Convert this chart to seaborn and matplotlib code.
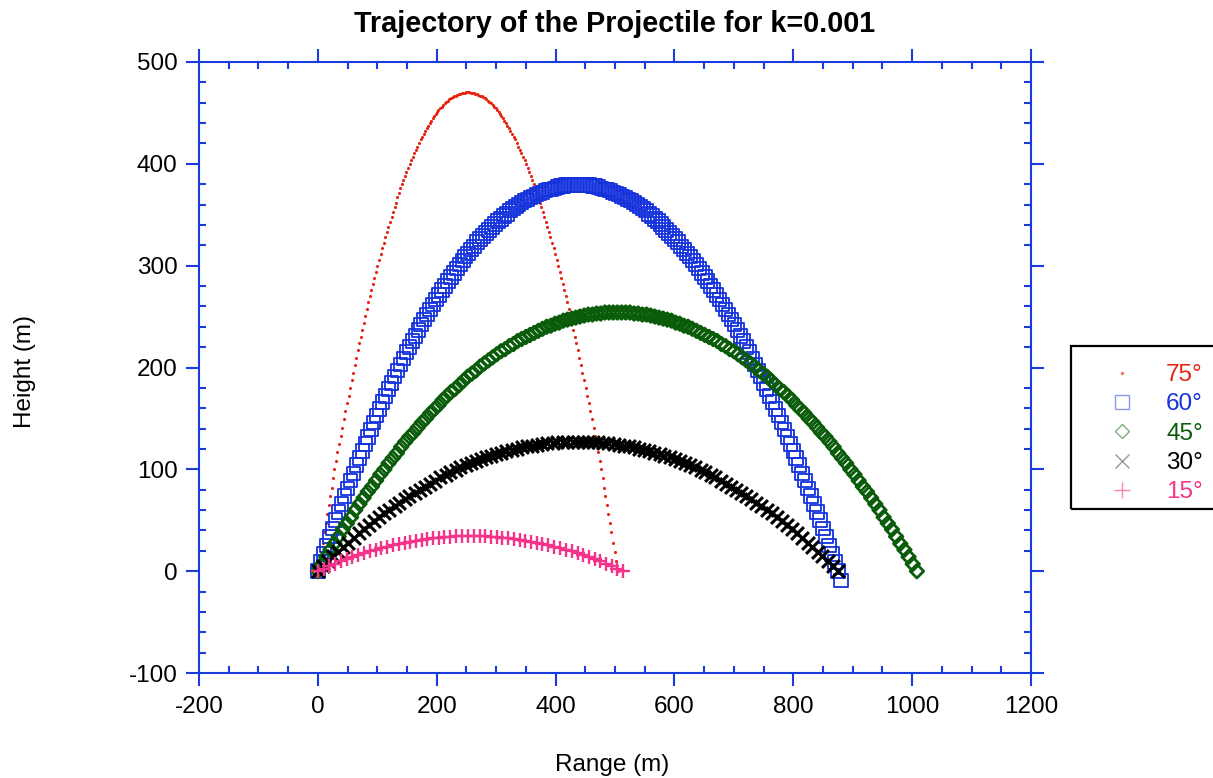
import matplotlib
matplotlib.use("Agg")
import matplotlib.pyplot as plt
from matplotlib.lines import Line2D
from matplotlib.patches import Rectangle
from matplotlib.ticker import MultipleLocator
import seaborn as sns

# --- trajectory samples (range x in m, height y in m), one point per time step ---
x_75 = [0, 3, 5, 8, 10, 13, 15, 18, 21, 23, 26, 28, 31, 33, 36, 39, 41, 44, 46, 49,
        52, 54, 57, 59, 62, 64, 67, 70, 72, 75, 77, 80, 82, 85, 88, 90, 93, 95, 98, 100,
        103, 106, 108, 111, 113, 116, 118, 121, 124, 126, 129, 131, 134, 136, 139, 142, 144, 147, 149, 152,
        155, 157, 160, 162, 165, 167, 170, 173, 175, 178, 180, 183, 185, 188, 191, 193, 196, 198, 201, 203,
        206, 209, 211, 214, 216, 219, 221, 224, 227, 229, 232, 234, 237, 239, 242, 245, 247, 250, 252, 255,
        258, 260, 263, 265, 268, 270, 273, 276, 278, 281, 283, 286, 288, 291, 294, 296, 299, 301, 304, 306,
        309, 312, 314, 317, 319, 322, 324, 327, 330, 332, 335, 337, 340, 342, 345, 348, 350, 353, 355, 358,
        361, 363, 366, 368, 371, 373, 376, 379, 381, 384, 386, 389, 391, 394, 397, 399, 402, 404, 407, 409,
        412, 415, 417, 420, 422, 425, 427, 430, 433, 435, 438, 440, 443, 445, 448, 451, 453, 456, 458, 461,
        464, 466, 469, 471, 474, 476, 479, 482, 484, 487, 489, 492, 494, 497, 500, 502, 505]
y_75 = [0, 10, 19, 28, 38, 47, 56, 65, 74, 82, 91, 100, 108, 117, 125, 133, 141, 149, 157, 165,
        172, 180, 188, 195, 202, 209, 217, 224, 230, 237, 244, 251, 257, 264, 270, 276, 282, 288, 294, 300,
        306, 311, 317, 322, 328, 333, 338, 343, 348, 353, 358, 362, 367, 371, 376, 380, 384, 388, 392, 396,
        400, 404, 407, 411, 414, 417, 420, 424, 426, 429, 432, 435, 437, 440, 442, 445, 447, 449, 451, 453,
        455, 456, 458, 460, 461, 462, 464, 465, 466, 467, 467, 468, 469, 469, 470, 470, 470, 471, 471, 471,
        470, 470, 470, 469, 469, 468, 467, 467, 466, 465, 464, 462, 461, 460, 458, 456, 455, 453, 451, 449,
        447, 445, 442, 440, 437, 435, 432, 429, 426, 424, 420, 417, 414, 411, 407, 404, 400, 396, 392, 388,
        384, 380, 376, 371, 367, 362, 358, 353, 348, 343, 338, 333, 328, 322, 317, 311, 306, 300, 294, 288,
        282, 276, 270, 264, 257, 251, 244, 237, 230, 224, 217, 209, 202, 195, 188, 180, 172, 165, 157, 149,
        141, 133, 125, 117, 108, 100, 91, 82, 74, 65, 56, 47, 38, 28, 19, 10, 0]

x_60 = [0, 5, 10, 15, 20, 25, 30, 35, 40, 45, 50, 55, 60, 65, 70, 75, 80, 84, 89, 94,
        99, 104, 109, 114, 119, 124, 129, 134, 139, 144, 149, 154, 159, 164, 169, 174, 179, 184, 189, 194,
        199, 204, 209, 214, 219, 224, 229, 234, 239, 244, 248, 253, 258, 263, 268, 273, 278, 283, 288, 293,
        298, 303, 308, 313, 318, 323, 328, 333, 338, 343, 348, 353, 358, 363, 368, 373, 378, 383, 388, 393,
        398, 403, 408, 413, 417, 422, 427, 432, 437, 442, 447, 452, 457, 462, 467, 472, 477, 482, 487, 492,
        497, 502, 507, 512, 517, 522, 527, 532, 537, 542, 547, 552, 557, 562, 567, 572, 577, 581, 586, 591,
        596, 601, 606, 611, 616, 621, 626, 631, 636, 641, 646, 651, 656, 661, 666, 671, 676, 681, 686, 691,
        696, 701, 706, 711, 716, 721, 726, 731, 736, 741, 745, 750, 755, 760, 765, 770, 775, 780, 785, 790,
        795, 800, 805, 810, 815, 820, 825, 830, 835, 840, 845, 850, 855, 860, 865, 870, 875, 880]
y_60 = [0, 9, 17, 25, 34, 42, 50, 58, 66, 74, 81, 89, 96, 104, 111, 118, 125, 132, 139, 146,
        153, 159, 166, 172, 179, 185, 191, 197, 203, 209, 215, 220, 226, 231, 237, 242, 247, 252, 257, 262,
        267, 271, 276, 280, 285, 289, 293, 297, 301, 305, 309, 312, 316, 319, 323, 326, 329, 332, 335, 338,
        341, 344, 346, 349, 351, 354, 356, 358, 360, 362, 364, 365, 367, 368, 370, 371, 372, 374, 375, 375,
        376, 377, 378, 378, 379, 379, 379, 379, 379, 379, 379, 379, 379, 378, 378, 377, 376, 375, 375, 374,
        372, 371, 370, 368, 367, 365, 364, 362, 360, 358, 356, 354, 351, 349, 346, 344, 341, 338, 335, 332,
        329, 326, 323, 319, 316, 312, 309, 305, 301, 297, 293, 289, 285, 280, 276, 271, 267, 262, 257, 252,
        247, 242, 237, 231, 226, 220, 215, 209, 203, 197, 191, 185, 179, 172, 166, 159, 153, 146, 139, 132,
        125, 118, 111, 104, 96, 89, 81, 74, 66, 58, 50, 42, 34, 25, 17, 9, 0, -9]

x_45 = [0, 7, 14, 21, 28, 35, 42, 49, 56, 63, 70, 77, 84, 91, 98, 105, 112, 119, 126, 133,
        140, 147, 154, 161, 168, 175, 182, 189, 196, 203, 210, 217, 224, 231, 238, 245, 252, 259, 266, 273,
        280, 287, 294, 301, 308, 315, 322, 329, 336, 343, 350, 357, 364, 371, 378, 385, 392, 399, 406, 413,
        420, 427, 434, 441, 448, 455, 462, 469, 476, 483, 490, 497, 504, 511, 518, 525, 532, 539, 546, 553,
        560, 567, 574, 581, 588, 595, 602, 609, 616, 623, 630, 637, 644, 651, 658, 665, 672, 679, 686, 693,
        700, 707, 714, 721, 728, 735, 742, 749, 756, 763, 770, 777, 784, 791, 798, 805, 812, 819, 826, 833,
        840, 847, 854, 861, 868, 875, 882, 889, 896, 903, 910, 917, 924, 931, 938, 945, 952, 959, 966, 973,
        980, 987, 994, 1001, 1008]
y_45 = [0, 7, 14, 21, 27, 34, 41, 47, 53, 60, 66, 72, 78, 83, 89, 95, 100, 106, 111, 116,
        122, 127, 132, 136, 141, 146, 150, 155, 159, 163, 168, 172, 176, 179, 183, 187, 191, 194, 197, 201,
        204, 207, 210, 213, 216, 218, 221, 223, 226, 228, 230, 232, 234, 236, 238, 240, 241, 243, 244, 246,
        247, 248, 249, 250, 251, 252, 252, 253, 253, 254, 254, 254, 254, 254, 254, 254, 253, 253, 252, 252,
        251, 250, 249, 248, 247, 246, 244, 243, 241, 240, 238, 236, 234, 232, 230, 228, 226, 223, 221, 218,
        216, 213, 210, 207, 204, 201, 197, 194, 191, 187, 183, 179, 176, 172, 168, 163, 159, 155, 150, 146,
        141, 136, 132, 127, 122, 116, 111, 106, 100, 95, 89, 83, 78, 72, 66, 60, 53, 47, 41, 34,
        27, 21, 14, 7, 0]

x_30 = [0, 9, 17, 26, 34, 43, 51, 60, 69, 77, 86, 94, 103, 112, 120, 129, 137, 146, 154, 163,
        172, 180, 189, 197, 206, 215, 223, 232, 240, 249, 257, 266, 275, 283, 292, 300, 309, 317, 326, 335,
        343, 352, 360, 369, 378, 386, 395, 403, 412, 420, 429, 438, 446, 455, 463, 472, 480, 489, 498, 506,
        515, 523, 532, 541, 549, 558, 566, 575, 583, 592, 601, 609, 618, 626, 635, 644, 652, 661, 669, 678,
        686, 695, 704, 712, 721, 729, 738, 746, 755, 764, 772, 781, 789, 798, 807, 815, 824, 832, 841, 849,
        858, 867, 875]
y_30 = [0, 5, 10, 15, 19, 24, 28, 33, 37, 41, 45, 49, 53, 57, 60, 64, 67, 71, 74, 77,
        80, 83, 86, 89, 92, 94, 97, 99, 102, 104, 106, 108, 110, 112, 113, 115, 116, 118, 119, 120,
        122, 123, 123, 124, 125, 126, 126, 127, 127, 127, 127, 127, 127, 127, 127, 127, 126, 126, 125, 124,
        123, 123, 122, 120, 119, 118, 116, 115, 113, 112, 110, 108, 106, 104, 102, 99, 97, 94, 92, 89,
        86, 83, 80, 77, 74, 71, 67, 64, 60, 57, 53, 49, 45, 41, 37, 33, 28, 24, 19, 15,
        10, 5, 0]

x_15 = [0, 10, 19, 29, 39, 49, 58, 68, 78, 87, 97, 107, 116, 126, 136, 146, 155, 165, 175, 184,
        194, 204, 213, 223, 233, 243, 252, 262, 272, 281, 291, 301, 310, 320, 330, 340, 349, 359, 369, 378,
        388, 398, 407, 417, 427, 437, 446, 456, 466, 475, 485, 495, 504, 514]
y_15 = [0, 2.5, 5.0, 7.4, 9.6, 11.8, 13.8, 15.8, 17.6, 19.4, 21.1, 22.6, 24.1, 25.5, 26.8, 27.9, 29.0, 30.0,
        30.9, 31.7, 32.3, 32.9, 33.4, 33.8, 34.1, 34.3, 34.4, 34.4, 34.3, 34.1, 33.8, 33.4, 32.9, 32.3, 31.7,
        30.9, 30.0, 29.0, 27.9, 26.8, 25.5, 24.1, 22.6, 21.1, 19.4, 17.6, 15.8, 13.8, 11.8, 9.6, 7.4, 5.0, 2.5, 0]

labels = ["75°", "60°", "45°", "30°", "15°"]

RED = "#e8230f"
BLUE = "#1432dc"
GREEN = "#0a5c0a"
BLACK = "#000000"
PINK = "#f5338a"
FRAME = "#1a3be0"

sns.set_theme(style="white")
plt.rcParams["font.family"] = ["Liberation Sans", "DejaVu Sans"]
plt.rcParams["axes.unicode_minus"] = False
plt.rcParams["text.color"] = "black"

fig = plt.figure(figsize=(12.13, 7.78), dpi=100)
ax = fig.add_axes([199 / 1213, 1 - 673 / 778, 832 / 1213, 611 / 778])

sns.scatterplot(x=x_75, y=y_75, ax=ax, marker="o", s=5, color=RED, linewidth=0, legend=False)
sns.scatterplot(x=x_60, y=y_60, ax=ax, marker="s", s=95, color=BLUE,
                facecolor="none", edgecolor=BLUE, linewidth=1.3, legend=False)
sns.scatterplot(x=x_45, y=y_45, ax=ax, marker="D", s=48, color=GREEN,
                facecolor="none", edgecolor=GREEN, linewidth=2.0, legend=False)
sns.scatterplot(x=x_30, y=y_30, ax=ax, marker="x", s=85, color=BLACK, linewidth=2.2, legend=False)
sns.scatterplot(x=x_15, y=y_15, ax=ax, marker="+", s=100, color=PINK, linewidth=1.7, legend=False)

ax.set_xlim(-200, 1200)
ax.set_ylim(-100, 500)
ax.set_xticks(range(-200, 1201, 200))
ax.set_yticks(range(-100, 501, 100))
ax.xaxis.set_minor_locator(MultipleLocator(50))
ax.yaxis.set_minor_locator(MultipleLocator(20))
ax.set_xlabel("")
ax.set_ylabel("")

for sp in ax.spines.values():
    sp.set_color(FRAME)
    sp.set_linewidth(1.5)
ax.tick_params(which="major", direction="out", length=9.5, width=1.5, color=FRAME,
               top=True, right=True, bottom=True, left=True,
               labeltop=False, labelright=False, labelsize=17.5, labelcolor="black")
ax.tick_params(axis="x", which="major", pad=7)
ax.tick_params(axis="y", which="major", pad=6)
ax.tick_params(which="minor", direction="in", length=5, width=1.5, color=FRAME,
               top=True, right=True, bottom=True, left=True)

fig.text(615 / 1213, 1 - 32 / 778, "Trajectory of the Projectile for k=0.001",
         ha="center", va="baseline", fontsize=20.7, fontweight="bold", color="black")
fig.text(612 / 1213, 1 - 765 / 778, "Range (m)", ha="center", va="center",
         fontsize=17.5, color="black")
fig.text(25 / 1213, 1 - 371 / 778, "Height (m)", ha="center", va="center",
         rotation=90, fontsize=17.5, color="black")

# legend: light markers, coloured labels, box running off the right edge
handles = [
    Line2D([], [], marker="o", linestyle="none", markersize=1.5, color=RED, alpha=0.5),
    Line2D([], [], marker="s", linestyle="none", markersize=10, markerfacecolor="none",
           markeredgecolor=BLUE, markeredgewidth=1, alpha=0.5),
    Line2D([], [], marker="D", linestyle="none", markersize=7, markerfacecolor="none",
           markeredgecolor=GREEN, markeredgewidth=1, alpha=0.5),
    Line2D([], [], marker="x", linestyle="none", markersize=10, color=BLACK,
           markeredgewidth=1, alpha=0.4),
    Line2D([], [], marker="+", linestyle="none", markersize=11, color=PINK,
           markeredgewidth=1, alpha=0.6),
]
fig.legend(handles, labels, loc="upper left", bbox_to_anchor=(1086 / 1213, 1 - 352 / 778),
           frameon=False, fontsize=17.5, handlelength=2.0, handletextpad=0.8,
           borderpad=0, labelspacing=0.3, labelcolor=[RED, BLUE, GREEN, BLACK, PINK])
fig.add_artist(Rectangle((1071 / 1213, 1 - 509 / 778), 0.2, 163 / 778,
                         transform=fig.transFigure, fill=False, edgecolor="black",
                         linewidth=1.6, clip_on=False))

fig.savefig("out.png", dpi=100)
